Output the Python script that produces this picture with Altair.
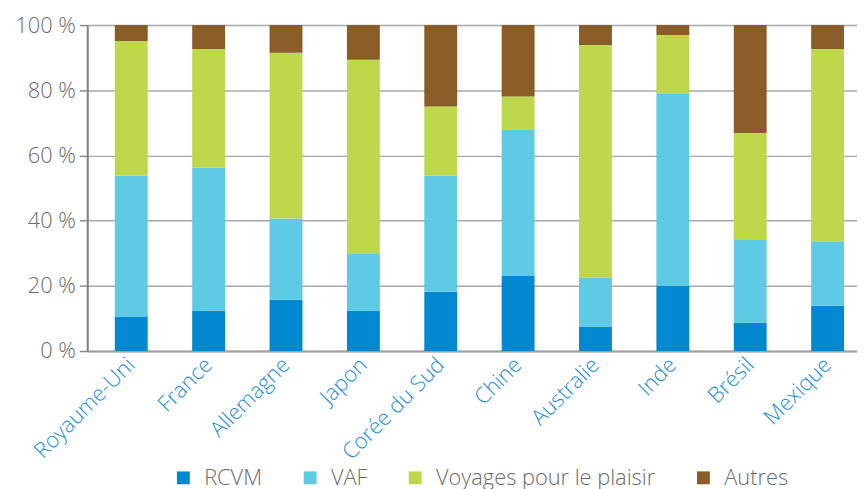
import altair as alt
import pandas as pd

countries = ["Royaume-Uni", "France", "Allemagne", "Japon", "Corée du Sud",
             "Chine", "Australie", "Inde", "Brésil", "Mexique"]
series = ["RCVM", "VAF", "Voyages pour le plaisir", "Autres"]
rcvm = [10.6, 12.4, 15.7, 12.4, 18.2, 23.0, 7.5, 20.0, 8.7, 13.9]
vaf = [43.2, 43.8, 25.0, 17.6, 35.6, 44.8, 15.0, 59.1, 25.6, 19.8]
voyages = [41.3, 36.5, 50.8, 59.4, 21.2, 10.3, 71.4, 17.9, 32.6, 59.0]
autres = [4.9, 7.3, 8.5, 10.6, 25.0, 21.9, 6.1, 3.0, 33.1, 7.3]
colors = ["#0089d0", "#5ecae4", "#bfd74a", "#8a5c28"]

rows = []
for vals, s_i in zip([rcvm, vaf, voyages, autres], range(4)):
    for c, v in zip(countries, vals):
        rows.append({"pays": c, "serie": series[s_i], "ordre": s_i, "valeur": v})
df = pd.DataFrame(rows)

FONT = "Open Sans"
FW = 300
FS = 22

chart = alt.Chart(df).mark_bar().encode(
    x=alt.X("pays:N", sort=countries, title=None,
            scale=alt.Scale(paddingInner=0.575, paddingOuter=0.262, align=0.68),
            axis=alt.Axis(labelAngle=-45, labelAlign="right", labelBaseline="middle",
                          labelFontSize=FS, labelColor="#1f8fd6", labelFont=FONT,
                          labelFontWeight=FW, labelPadding=10, ticks=False,
                          domainColor="#a0a0a0", domainWidth=2, grid=False)),
    y=alt.Y("valeur:Q", stack="normalize", title=None,
            scale=alt.Scale(domain=[0, 1], nice=False),
            axis=alt.Axis(values=[0, 0.2, 0.4, 0.6, 0.8, 1.0],
                          labelExpr="format(datum.value*100, 'd') + ' %'",
                          labelFontSize=FS, labelColor="#6b6b6b", labelFont=FONT,
                          labelFontWeight=FW, labelPadding=4,
                          tickSize=8, tickColor="#8a8a8a", tickWidth=1.5,
                          domainColor="#7f7f7f", domainWidth=2,
                          grid=True, gridColor="#a8a8a8", gridWidth=1.5)),
    color=alt.Color("serie:N", sort=series,
                    scale=alt.Scale(domain=series, range=colors),
                    legend=alt.Legend(title=None, orient="none", direction="horizontal",
                                      legendX=86, legendY=446,
                                      symbolType="square", symbolSize=169,
                                      symbolStrokeWidth=0, symbolOpacity=1,
                                      labelFontSize=FS, labelColor="#6b6b6b",
                                      labelFont=FONT, labelFontWeight=FW,
                                      labelLimit=0,
                                      labelOffset=10, columnPadding=37)),
    order=alt.Order("ordre:Q", sort="ascending"),
).properties(
    width=777, height=329,
    autosize=alt.AutoSizeParams(type="none"),
    padding={"left": 80, "top": 15, "right": 0, "bottom": 137},
).configure_view(stroke=None).configure(background="white")

chart.save("out.html", embed_options={"renderer": "svg", "actions": False})
